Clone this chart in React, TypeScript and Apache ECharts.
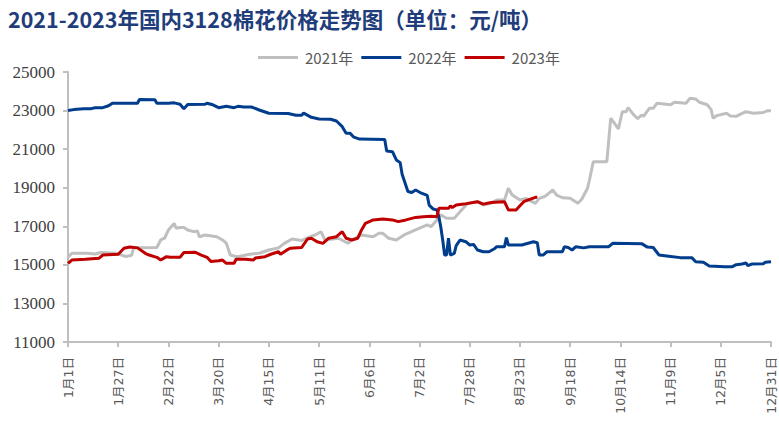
import React, { useEffect, useRef } from "react";
import * as echarts from "echarts";

const titleText = "2021-2023年国内3128棉花价格走势图（单位：元/吨）";
const seriesNames = ["2021年", "2022年", "2023年"];
const xTickLabels = ["1月1日", "1月27日", "2月22日", "3月20日", "4月15日", "5月11日", "6月6日", "7月2日", "7月28日", "8月23日", "9月18日", "10月14日", "11月9日", "12月5日", "12月31日"];

// day of year (0 = 1月1日) and price
const days2021 = [0,2,10,14,17,25,28,30,33,34,46,48,50,52,55,56,58,60,62,65,67,68,71,77,80,82,84,86,88,94,99,104,109,112,116,121,124,128,131,133,140,145,147,152,158,161,163,166,170,174,182,186,188,191,193,196,200,203,207,212,215,219,222,226,228,230,234,237,242,244,247,251,253,256,260,264,266,269,270,272,279,281,283,285,287,289,290,293,295,297,298,301,303,305,312,314,320,322,325,327,331,333,334,336,341,343,346,348,351,355,360,362,364];
const vals2021 = [15400,15600,15600,15560,15640,15600,15500,15430,15500,15890,15900,16290,16380,16810,17150,16900,16940,16940,16810,16720,16750,16460,16550,16460,16290,16120,15510,15460,15425,15550,15600,15770,15880,16115,16340,16260,16400,16550,16720,16290,16380,16120,16290,16550,16460,16640,16635,16380,16290,16550,16900,17070,16980,17330,17590,17420,17420,17760,18190,18275,18100,18190,18360,18360,18970,18620,18360,18450,18190,18450,18550,18880,18620,18480,18450,18190,18400,18970,19400,20350,20350,22600,22340,22045,22940,22940,23150,22770,22580,22770,22700,23115,23115,23380,23300,23430,23380,23635,23600,23430,23300,23050,22600,22740,22860,22720,22700,22800,22940,22860,22900,22990,22990];

const days2022 = [0,3,8,12,14,18,21,23,36,37,45,46,52,55,58,60,62,71,72,75,78,82,86,88,91,95,99,104,114,118,121,122,126,130,136,139,142,144,146,148,151,164,165,168,170,172,173,174,176,178,180,183,186,187,189,191,192,193,194,195,196,197,198,200,201,203,206,208,210,212,215,218,221,222,226,227,228,235,241,243,244,246,248,256,257,259,261,263,267,270,280,282,297,300,303,306,311,317,323,325,329,332,340,344,346,349,351,352,354,360,361,364];
const vals2022 = [23000,23050,23100,23100,23150,23150,23250,23380,23380,23580,23560,23380,23380,23400,23330,23100,23320,23330,23380,23300,23150,23220,23150,23220,23180,23185,23030,22860,22850,22760,22760,22870,22650,22560,22550,22460,22165,21820,21830,21620,21520,21500,20900,20870,20440,20300,19700,19400,18800,18750,18880,18715,18600,18100,17900,17850,17500,16980,16300,15510,15510,16390,15510,15600,16000,16290,16200,16030,16060,15770,15680,15680,15850,15940,15940,16410,16030,16030,16200,16150,15510,15510,15680,15680,15940,15900,15770,15940,15880,15940,15940,16115,16100,15920,15900,15510,15450,15375,15375,15165,15130,14940,14900,14905,15010,15045,15100,14960,15040,15060,15130,15165];

const days2023 = [0,2,9,16,18,26,29,32,36,40,42,46,48,51,53,58,60,66,69,72,74,78,80,82,86,87,92,96,97,102,105,109,110,113,115,121,124,126,129,132,135,139,142,144,147,150,152,154,158,163,168,171,175,180,184,188,191,192,197,198,199,201,205,212,215,219,226,228,232,234,236,238,242,243];
const vals2023 = [15080,15250,15290,15340,15510,15550,15860,15930,15880,15600,15510,15390,15250,15425,15390,15390,15640,15650,15510,15390,15170,15210,15250,15080,15080,15290,15290,15250,15350,15425,15550,15680,15550,15750,15860,15900,16340,16380,16200,16115,16380,16460,16720,16380,16290,16380,16810,17155,17330,17380,17330,17240,17330,17460,17500,17520,17500,17930,17930,18060,17970,18100,18150,18275,18150,18230,18275,17845,17845,18060,18275,18360,18500,18500];

const colors = ["#BFBFBF", "#003D8C", "#C00000"];

const pair = (d: number[], v: number[]) => d.map((x, i) => [x, v[i]]);

export default function App() {
  const ref = useRef<HTMLDivElement>(null);
  useEffect(() => {
    if (!ref.current) return;
    const chart = echarts.init(ref.current, null, { renderer: "svg" });
    const allData = [pair(days2021, vals2021), pair(days2022, vals2022), pair(days2023, vals2023)];
    chart.setOption({
      animation: false,
      backgroundColor: "#ffffff",
      title: {
        text: titleText,
        left: 8,
        top: 8,
        padding: 0,
        textStyle: { fontSize: 21.5, fontWeight: "bold", color: "#1F3D7A", fontFamily: "Noto Sans CJK SC" },
      },
      legend: {
        left: 253,
        top: 45,
        itemWidth: 40,
        itemHeight: 3,
        itemGap: 8,
        icon: "rect",
        data: seriesNames,
        textStyle: { fontSize: 15, color: "#595959", fontFamily: "Noto Sans CJK SC", padding: [0, 0, 0, 2] },
      },
      grid: { left: 68, right: 8, top: 72, bottom: 101, outerBoundsMode: "none" },
      xAxis: {
        type: "value",
        min: 0,
        max: 364,
        interval: 26,
        axisLine: { show: true, lineStyle: { color: "#BFBFBF", width: 2 } },
        axisTick: { show: true, length: 5, lineStyle: { color: "#BFBFBF", width: 2 } },
        splitLine: { show: false },
        axisLabel: {
          rotate: 90,
          margin: 15,
          color: "#595959",
          fontSize: 12.5,
          fontFamily: "DejaVu Sans, Noto Sans CJK SC",
          formatter: (v: number) => xTickLabels[Math.round(v / 26)] ?? "",
        },
      },
      yAxis: {
        type: "value",
        min: 11000,
        max: 25000,
        interval: 2000,
        axisLine: { show: true, lineStyle: { color: "#BFBFBF", width: 2 } },
        axisTick: { show: true, length: 5, lineStyle: { color: "#BFBFBF", width: 2 } },
        splitLine: { show: false },
        axisLabel: {
          margin: 13,
          color: "#404040",
          fontSize: 17,
          fontFamily: "Liberation Serif",
          formatter: (v: number) => String(v),
        },
      },
      series: seriesNames.map((name, i) => ({
        name,
        type: "line",
        data: allData[i],
        showSymbol: false,
        symbol: "none",
        color: colors[i],
        lineStyle: { width: 3, color: colors[i] },
        z: i === 1 ? 3 : i === 2 ? 4 : 2,
      })),
    });
    return () => chart.dispose();
  }, []);
  return <div ref={ref} style={{ position: "absolute", left: 0, top: 0, width: 779, height: 443 }} />;
}
